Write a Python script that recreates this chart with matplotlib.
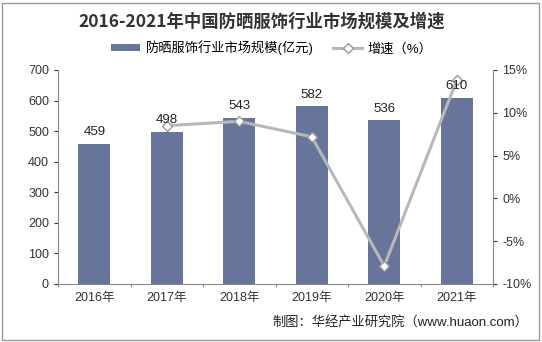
import matplotlib.pyplot as plt
import numpy as np

plt.rcParams['font.family'] = ['Liberation Sans', 'Noto Sans CJK SC', 'DejaVu Sans']

years = ['2016年', '2017年', '2018年', '2019年', '2020年', '2021年']
market_size = [459, 498, 543, 582, 536, 610]
growth_years = ['2017年', '2018年', '2019年', '2020年', '2021年']
growth = [8.5, 9.0, 7.2, -7.9, 13.8]

bar_color = '#67759a'
line_color = '#b8b8b8'

fig = plt.figure(figsize=(5.42, 3.42), dpi=100)
ax = fig.add_axes([58 / 542, 1 - 284 / 342, (493 - 58) / 542, (284 - 70) / 342])

x = np.arange(len(years))
ax.bar(x, market_size, width=0.44, color=bar_color, zorder=2, label='防晒服饰行业市场规模(亿元)')

ax.set_xlim(-0.5, len(years) - 0.5)
ax.set_ylim(0, 700)
ax.set_yticks(range(0, 701, 100))
ax.set_xticks(x)
ax.set_xticklabels(years)
ax.tick_params(axis='both', labelsize=9, colors='#333333', length=3)
ax.tick_params(axis='x', length=0, pad=6)
for s in ['top', 'right']:
    ax.spines[s].set_visible(False)
ax.spines['left'].set_color('#888888')
ax.spines['bottom'].set_color('#888888')
# small ticks between categories on x axis
for b in np.arange(-0.5, len(years), 1.0):
    ax.plot([b, b], [0, -6], color='#888888', lw=0.8, clip_on=False)

ax2 = ax.twinx()
gx = [years.index(y) for y in growth_years]
ax2.plot(gx, growth, color=line_color, lw=2.2, marker='D', markersize=5,
         markerfacecolor='white', markeredgecolor='#999999', zorder=3,
         label='增速（%）')
ax2.set_ylim(-10, 15)
ax2.set_yticks(range(-10, 16, 5))
ax2.set_yticklabels([f'{v}%' for v in range(-10, 16, 5)])
ax2.tick_params(axis='y', labelsize=9, colors='#333333', length=3)
for s in ['top', 'left', 'bottom']:
    ax2.spines[s].set_visible(False)
ax2.spines['right'].set_color('#888888')

# bar value labels drawn above the line
for xi, v in zip(x, market_size):
    ax2.text(xi, v + 18, str(v), ha='center', va='bottom', fontsize=9.5,
             color='#222222', transform=ax.transData, zorder=5)

fig.text(262 / 542, 1 - 22 / 342, '2016-2021年中国防晒服饰行业市场规模及增速',
         ha='center', va='center', fontsize=12.5, fontweight='bold', color='#333333',
         family=['Noto Sans CJK SC'])

h1, l1 = ax.get_legend_handles_labels()
h2, l2 = ax2.get_legend_handles_labels()
fig.legend(h1 + h2, l1 + l2, loc='center', bbox_to_anchor=(272 / 542, 1 - 48 / 342),
           ncol=2, frameon=False, fontsize=9.5, handlelength=2.2,
           handleheight=0.5, columnspacing=1.5, handletextpad=0.4)

fig.text(528 / 542, 1 - 322 / 342, '制图：华经产业研究院（www.huaon.com）',
         ha='right', va='center', fontsize=9.5, color='#222222')

fig.patches.append(plt.Rectangle((2 / 542, 2 / 342), 537 / 542, 337 / 342,
                                 transform=fig.transFigure, fill=False,
                                 edgecolor='#999999', lw=1))

fig.savefig('out.png', dpi=100)
